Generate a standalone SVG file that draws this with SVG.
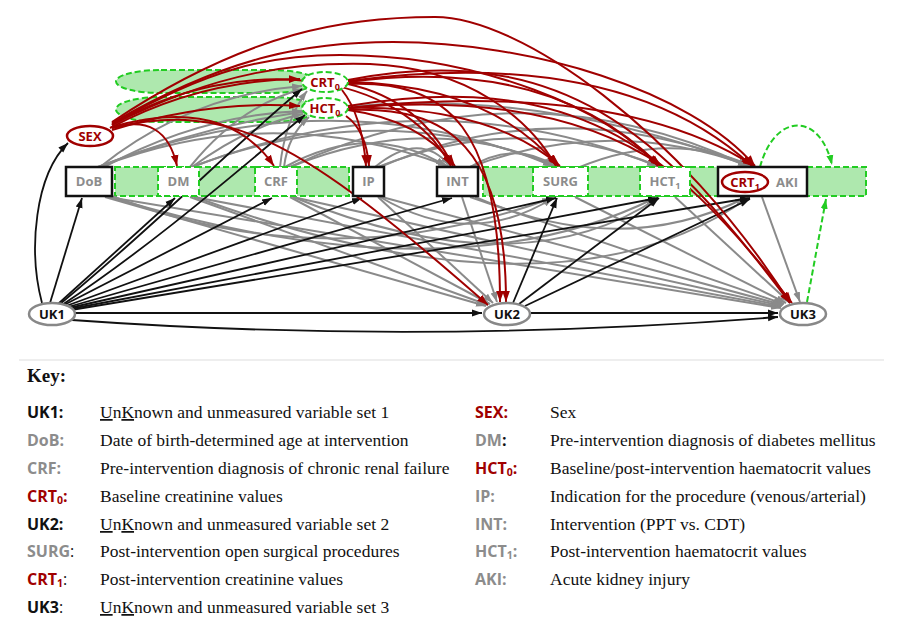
<svg xmlns="http://www.w3.org/2000/svg" width="902" height="636" viewBox="0 0 902 636">
<defs>
<style>
.g{stroke:#8a8a8a;stroke-width:2;fill:none;marker-end:url(#ag)}
.k{stroke:#111;stroke-width:1.8;fill:none;marker-end:url(#ak)}
.r{stroke:#a00000;stroke-width:2;fill:none;marker-end:url(#ar)}
.gd{stroke:#22cc22;stroke-width:2;stroke-dasharray:6,3;fill:none;marker-end:url(#agr)}
.zone{fill:#aee8ae;stroke:#22cc22;stroke-width:2;stroke-dasharray:6,3}
.bx{fill:#fff;stroke:#111;stroke-width:2.5}
.gbx{fill:#fff;stroke:#22cc22;stroke-width:2;stroke-dasharray:6,3}
.uk{fill:#fff;stroke:#888;stroke-width:2.5}
.nt{font-family:"Open Sans","DejaVu Sans",sans-serif;font-weight:bold;font-size:13px;text-anchor:middle}
.gr{fill:#8c8c8c}
.rd{fill:#a00000}
.bk{fill:#111}
.kl{font-family:"Open Sans","DejaVu Sans",sans-serif;font-weight:bold;font-size:16px}
.kd{font-family:"Liberation Serif","Times New Roman",serif;font-size:17.5px;fill:#111}
</style>
<marker id="ag" viewBox="0 0 10 10" refX="10" refY="5" markerWidth="10" markerHeight="10" markerUnits="userSpaceOnUse" orient="auto"><path d="M0,1.5 L10,5 L0,8.5 z" fill="#8a8a8a"/></marker>
<marker id="ak" viewBox="0 0 10 10" refX="10" refY="5" markerWidth="10" markerHeight="10" markerUnits="userSpaceOnUse" orient="auto"><path d="M0,1.5 L10,5 L0,8.5 z" fill="#111"/></marker>
<marker id="ar" viewBox="0 0 10 10" refX="10" refY="5" markerWidth="11" markerHeight="11" markerUnits="userSpaceOnUse" orient="auto"><path d="M0,1.5 L10,5 L0,8.5 z" fill="#a00000"/></marker>
<marker id="agr" viewBox="0 0 10 10" refX="10" refY="5" markerWidth="10" markerHeight="10" markerUnits="userSpaceOnUse" orient="auto"><path d="M0,1.5 L10,5 L0,8.5 z" fill="#22cc22"/></marker>
</defs>
<rect width="902" height="636" fill="#fff"/>

<g id="zones">
<rect class="zone" x="116" y="70" width="200" height="23" rx="45" ry="11.5"/>
<rect class="zone" x="116" y="97" width="200" height="25" rx="45" ry="12.5"/>
<rect class="zone" x="115" y="167" width="234" height="29"/>
<rect class="zone" x="483" y="167" width="383" height="29"/>
</g>

<g id="connectors">
<!-- gray below -->
<path class="g" d="M105,197 L486,306"/>
<path class="g" d="M108,197 L781,308"/>
<path class="g" d="M190,197 L488,305"/>
<path class="g" d="M194,197 L781,307"/>
<path class="g" d="M290,197 L490,304"/>
<path class="g" d="M293,197 L782,306"/>
<path class="g" d="M378,197 L493,303"/>
<path class="g" d="M382,197 L783,305"/>
<path class="g" d="M462,197 L497,302"/>
<path class="g" d="M470,197 L784,304"/>
<path class="g" d="M575,197 L786,303"/>
<path class="g" d="M675,197 L790,303"/>
<path class="g" d="M762,197 L800,302"/>
<path class="g" d="M195,197 Q 560,330 748,198"/>
<path class="g" d="M293,197 Q 520,290 658,198"/>
<path class="g" d="M380,197 Q 470,250 553,198"/>
<path class="g" d="M110,197 Q 450,300 655,198"/>
<path class="g" d="M475,197 Q 620,260 745,198"/>
<path class="g" d="M112,196 Q 330,280 552,198"/>
<!-- gray above -->
<path class="g" d="M100,167 Q 190,95 302,86"/>
<path class="g" d="M104,167 Q 200,115 302,111"/>
<path class="g" d="M190,167 Q 240,105 303,89"/>
<path class="g" d="M192,167 Q 250,125 303,114"/>
<path class="g" d="M280,167 Q 285,120 307,91"/>
<path class="g" d="M284,167 Q 288,135 309,117"/>
<path class="g" d="M100,167 Q 270,100 448,166"/>
<path class="g" d="M98,167 Q 330,75 553,166"/>
<path class="g" d="M192,167 Q 380,95 555,166"/>
<path class="g" d="M192,167 Q 430,75 657,166"/>
<path class="g" d="M285,167 Q 370,120 446,166"/>
<path class="g" d="M290,167 Q 430,110 554,166"/>
<path class="g" d="M290,167 Q 520,60 748,166"/>
<path class="g" d="M378,167 Q 520,110 658,166"/>
<path class="g" d="M380,167 Q 560,90 750,166"/>
<path class="g" d="M470,167 Q 515,140 555,166"/>
<path class="g" d="M470,167 Q 610,115 750,166"/>
<path class="g" d="M580,167 Q 670,130 752,166"/>
<path class="g" d="M98,167 Q 420,40 748,166"/>
<path class="g" d="M375,167 Q 420,130 450,166"/>
<!-- black -->
<path class="k" d="M42,303 C 28,250 35,175 68,143"/>
<path class="k" d="M50,303 L 82,198"/>
<path class="k" d="M58,304 L 175,198"/>
<path class="k" d="M60,304 C 150,230 240,140 302,89"/>
<path class="k" d="M62,305 C 160,240 250,160 305,115"/>
<path class="k" d="M64,305 L 272,198"/>
<path class="k" d="M66,306 L 362,198"/>
<path class="k" d="M68,307 L 452,198"/>
<path class="k" d="M69,308 L 556,198"/>
<path class="k" d="M70,309 L 658,198"/>
<path class="k" d="M71,310 L 750,198"/>
<path class="k" d="M75,313 L 482,313"/>
<path class="k" d="M72,320 Q 420,345 778,317"/>
<path class="k" d="M513,303 L 557,198"/>
<path class="k" d="M519,304 L 659,198"/>
<path class="k" d="M525,306 L 750,199"/>
<path class="k" d="M531,313 L 778,313"/>
<!-- green dashed -->
<path class="gd" d="M760,167 C 775,112 820,112 832,165"/>
<path class="gd" d="M807,302 L 826,199"/>
<!-- red -->
<path class="r" d="M110,128 Q 200,80 300,79"/>
<path class="r" d="M112,130 Q 210,100 300,106"/>
<path class="r" d="M112,128 Q 165,112 177,166"/>
<path class="r" d="M112,127 Q 225,95 274,166"/>
<path class="r" d="M112,128 C 230,100 300,140 488,305"/>
<path class="r" d="M112,125 C 240,50 400,70 451,166"/>
<path class="r" d="M112,125 C 220,70 300,62 370,64 C 470,68 530,120 556,166"/>
<path class="r" d="M112,124 C 210,68 270,55 340,55 C 480,55 610,110 658,166"/>
<path class="r" d="M112,123 C 230,55 310,42 393,42 C 530,42 690,90 755,166"/>
<path class="r" d="M112,122 C 250,30 350,17 435,17 C 520,17 680,130 790,303"/>
<path class="r" d="M342,90 Q 362,115 366,166"/>
<path class="r" d="M346,116 Q 366,130 369,166"/>
<path class="r" d="M348,84 Q 420,100 453,166"/>
<path class="r" d="M348,110 Q 420,120 455,166"/>
<path class="r" d="M348,82 Q 490,85 558,166"/>
<path class="r" d="M348,108 Q 490,105 560,166"/>
<path class="r" d="M348,82 Q 550,55 660,166"/>
<path class="r" d="M348,108 Q 550,90 662,166"/>
<path class="r" d="M348,81 Q 620,45 752,166"/>
<path class="r" d="M348,108 Q 620,80 754,166"/>
<path class="r" d="M348,84 C 450,80 500,130 500,302"/>
<path class="r" d="M348,110 C 450,105 506,150 506,302"/>
<path class="r" d="M348,80 C 560,40 660,130 790,303"/>
<path class="r" d="M348,106 C 570,70 665,140 792,303"/>
</g>

<g id="SEX"><ellipse cx="90" cy="136" rx="23" ry="10" fill="#fff" stroke="#a00000" stroke-width="2.5"/><text class="nt rd" x="90" y="141">SEX</text></g>
<g id="CRT0"><ellipse class="gbx" cx="325" cy="82" rx="23" ry="10"/><text class="nt rd" x="325" y="87">CRT<tspan font-size="9" dy="3">0</tspan></text></g>
<g id="HCT0"><ellipse class="gbx" cx="325" cy="108" rx="23" ry="10"/><text class="nt rd" x="325" y="113">HCT<tspan font-size="9" dy="3">0</tspan></text></g>
<g id="DoB"><rect class="bx" x="66" y="167" width="46" height="29"/><text class="nt gr" x="89" y="186">DoB</text></g>
<g id="DM"><rect class="gbx" x="158" y="167" width="41" height="29"/><text class="nt gr" x="178.5" y="186">DM</text></g>
<g id="CRF"><rect class="gbx" x="255" y="167" width="42" height="29"/><text class="nt gr" x="276" y="186">CRF</text></g>
<g id="IP"><rect class="bx" x="353" y="167" width="31" height="29"/><text class="nt gr" x="368.5" y="186">IP</text></g>
<g id="INT"><rect class="bx" x="437" y="167" width="41" height="29"/><text class="nt gr" x="457.5" y="186">INT</text></g>
<g id="SURG"><rect class="gbx" x="533" y="167" width="55" height="29"/><text class="nt gr" x="560.5" y="186">SURG</text></g>
<g id="HCT1"><rect class="gbx" x="640" y="167" width="50" height="29"/><text class="nt gr" x="665" y="186">HCT<tspan font-size="9" dy="3">1</tspan></text></g>
<g id="CRT1-AKI"><rect class="bx" x="718" y="167" width="89" height="29"/><ellipse cx="745" cy="182" rx="23" ry="10" fill="#fff" stroke="#a00000" stroke-width="2.5"/><text class="nt rd" x="745" y="187">CRT<tspan font-size="9" dy="3">1</tspan></text><text class="nt gr" x="787" y="187">AKI</text></g>
<g id="UK1"><ellipse class="uk" cx="52" cy="314" rx="23" ry="11"/><text class="nt bk" x="52" y="319">UK1</text></g>
<g id="UK2"><ellipse class="uk" cx="507" cy="314" rx="23" ry="11"/><text class="nt bk" x="507" y="319">UK2</text></g>
<g id="UK3"><ellipse class="uk" cx="803" cy="314" rx="23" ry="11"/><text class="nt bk" x="803" y="319">UK3</text></g>

<g id="key" font-family="Liberation Serif, serif">
<line x1="19" y1="360" x2="884" y2="360" stroke="#ddd" stroke-width="1"/>
<text x="27" y="382" font-family="Liberation Serif,serif" font-weight="bold" font-size="19" fill="#111">Key:</text>
<text class="kl bk" x="27" y="418">UK1:</text><text class="kd" x="100" y="418"><tspan text-decoration="underline">U</tspan>n<tspan text-decoration="underline">K</tspan>nown and unmeasured variable set 1</text>
<text class="kl gr" x="27" y="446">DoB:</text><text class="kd" x="100" y="446">Date of birth-determined age at intervention</text>
<text class="kl gr" x="27" y="474">CRF:</text><text class="kd" x="100" y="474">Pre-intervention diagnosis of chronic renal failure</text>
<text class="kl rd" x="27" y="502">CRT<tspan font-size="10.5" dy="2">0</tspan><tspan dy="-2">:</tspan></text><text class="kd" x="100" y="502">Baseline creatinine values</text>
<text class="kl bk" x="27" y="530">UK2:</text><text class="kd" x="100" y="530"><tspan text-decoration="underline">U</tspan>n<tspan text-decoration="underline">K</tspan>nown and unmeasured variable set 2</text>
<text class="kl gr" x="27" y="557">SURG<tspan fill="#111" font-weight="normal">:</tspan></text><text class="kd" x="100" y="557">Post-intervention open surgical procedures</text>
<text class="kl rd" x="27" y="585">CRT<tspan font-size="10.5" dy="2">1</tspan><tspan dy="-2" fill="#111" font-weight="normal">:</tspan></text><text class="kd" x="100" y="585">Post-intervention creatinine values</text>
<text class="kl bk" x="27" y="613">UK3<tspan font-weight="normal">:</tspan></text><text class="kd" x="100" y="613"><tspan text-decoration="underline">U</tspan>n<tspan text-decoration="underline">K</tspan>nown and unmeasured variable set 3</text>

<text class="kl rd" x="475" y="418">SEX:</text><text class="kd" x="550" y="418">Sex</text>
<text class="kl gr" x="475" y="446">DM<tspan fill="#111">:</tspan></text><text class="kd" x="550" y="446">Pre-intervention diagnosis of diabetes mellitus</text>
<text class="kl rd" x="475" y="474">HCT<tspan font-size="10.5" dy="2">0</tspan><tspan dy="-2">:</tspan></text><text class="kd" x="550" y="474">Baseline/post-intervention haematocrit values</text>
<text class="kl gr" x="475" y="502">IP:</text><text class="kd" x="550" y="502">Indication for the procedure (venous/arterial)</text>
<text class="kl gr" x="475" y="530">INT:</text><text class="kd" x="550" y="530">Intervention (PPT vs. CDT)</text>
<text class="kl gr" x="475" y="557">HCT<tspan font-size="10.5" dy="2">1</tspan><tspan dy="-2">:</tspan></text><text class="kd" x="550" y="557">Post-intervention haematocrit values</text>
<text class="kl gr" x="475" y="585">AKI:</text><text class="kd" x="550" y="585">Acute kidney injury</text>
</g>
</svg>
